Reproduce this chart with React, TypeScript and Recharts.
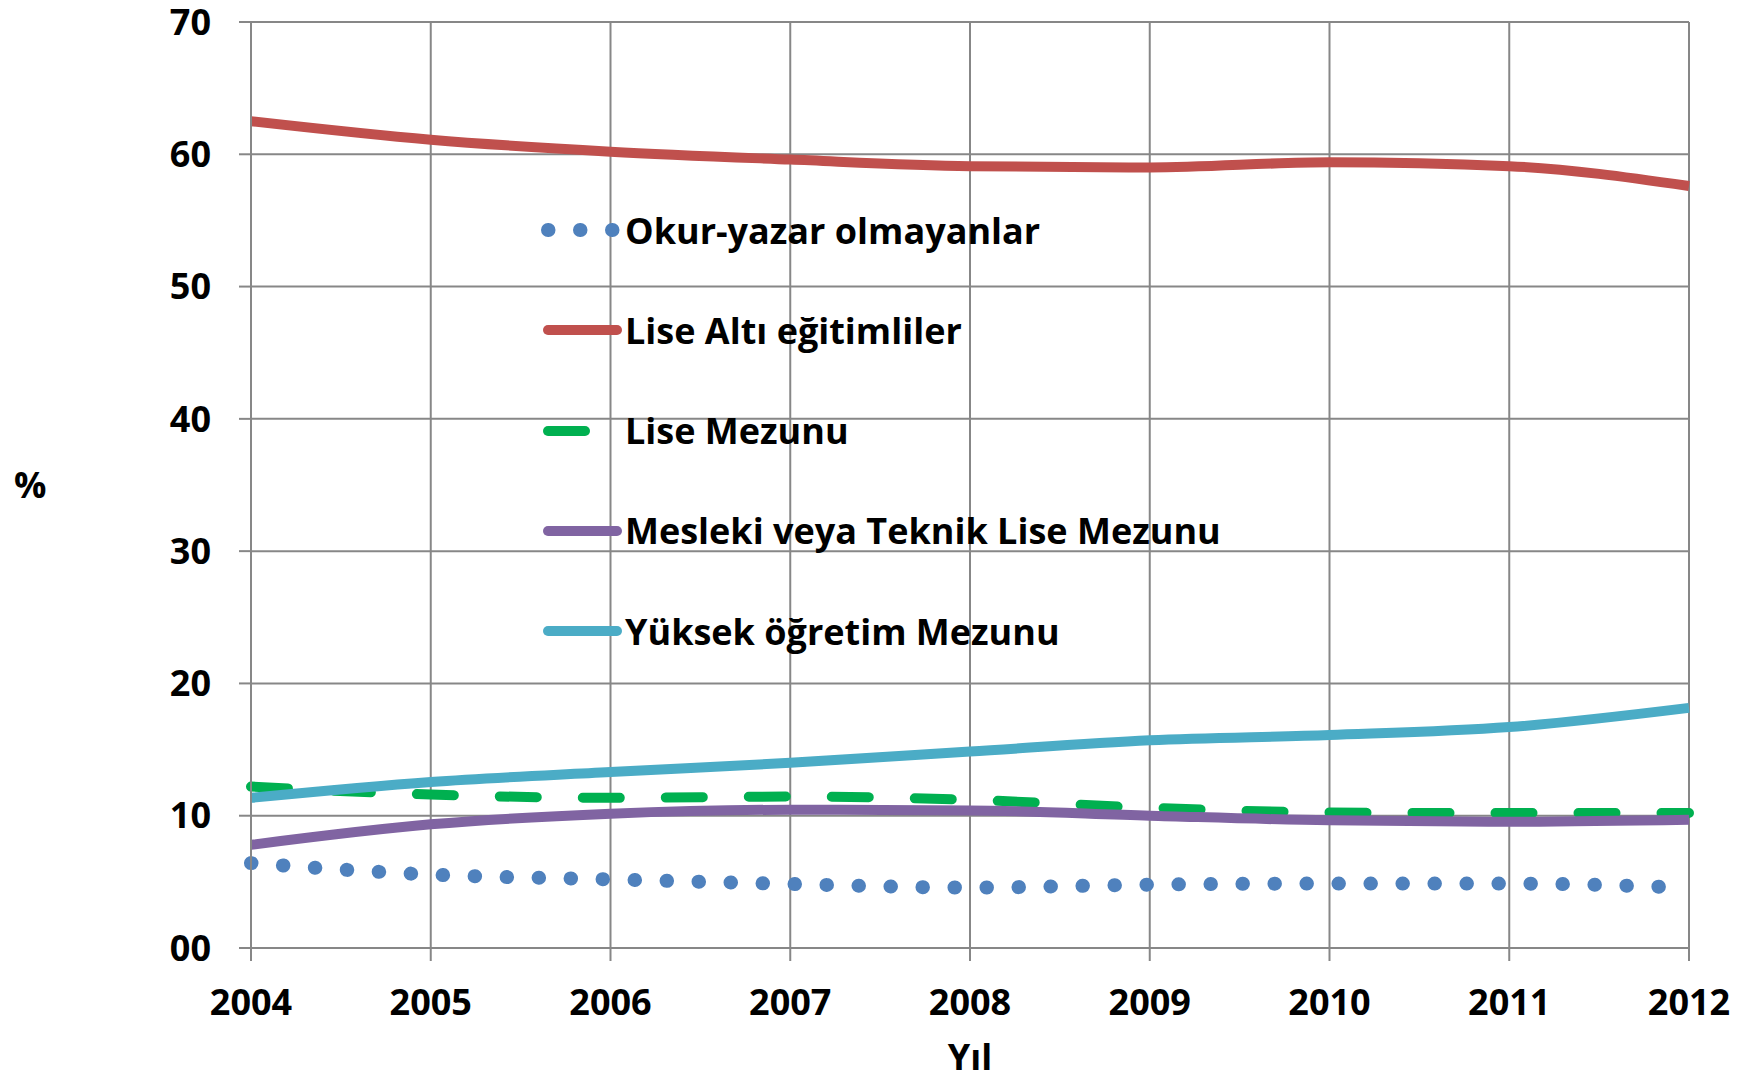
import React from 'react';
import { LineChart, Line, XAxis, YAxis, CartesianGrid, Legend } from 'recharts';

const YEARS = [2004, 2005, 2006, 2007, 2008, 2009, 2010, 2011, 2012];
const Y_TICKS = [0, 10, 20, 30, 40, 50, 60, 70];

// shares (%)
const OKUR_YAZAR = [6.42, 5.55, 5.19, 4.84, 4.57, 4.79, 4.87, 4.87, 4.55];
const LISE_ALTI = [62.5, 61.1, 60.2, 59.6, 59.1, 59.0, 59.4, 59.1, 57.6];
const LISE_MEZUNU = [12.2, 11.6, 11.35, 11.45, 11.2, 10.6, 10.25, 10.2, 10.2];
const MESLEKI = [7.8, 9.35, 10.15, 10.45, 10.4, 10.0, 9.65, 9.55, 9.7];
const YUKSEK = [11.35, 12.55, 13.3, 14.0, 14.85, 15.7, 16.1, 16.7, 18.15];

const SERIES = [
  { key: 'okur', name: 'Okur-yazar olmayanlar', color: '#4F81BD', width: 14, dash: '0.5 31.5', cap: 'round' },
  { key: 'altı', name: 'Lise Altı eğitimliler', color: '#C0504D', width: 10, dash: undefined, cap: 'butt' },
  { key: 'lise', name: 'Lise Mezunu', color: '#00B050', width: 10, dash: '37 46', cap: 'round' },
  { key: 'meslek', name: 'Mesleki veya Teknik Lise Mezunu', color: '#8064A2', width: 10, dash: undefined, cap: 'butt' },
  { key: 'yuksek', name: 'Yüksek öğretim Mezunu', color: '#4BACC6', width: 10, dash: undefined, cap: 'butt' },
];

const data = YEARS.map((year, i) => ({
  year,
  okur: OKUR_YAZAR[i],
  altı: LISE_ALTI[i],
  lise: LISE_MEZUNU[i],
  meslek: MESLEKI[i],
  yuksek: YUKSEK[i],
}));

const FONT = '"Open Sans", Lato, sans-serif';
const GRID = '#878787';
const TEXT = { fill: '#000', fontSize: 36, fontWeight: 700 };

const LegendBox = () => (
  <div style={{ fontFamily: FONT }}>
    {SERIES.map((s) => (
      <div key={s.key} style={{ height: 100.3, display: 'flex', alignItems: 'center' }}>
        <svg width={85} height={20} style={{ display: 'block' }}>
          <line
            x1={8}
            x2={77}
            y1={10}
            y2={10}
            stroke={s.color}
            strokeWidth={s.width}
            strokeDasharray={s.dash}
            strokeLinecap="round"
          />
        </svg>
        <span style={{ fontSize: 36, fontWeight: 700, color: '#000', whiteSpace: 'nowrap', lineHeight: 1.2 }}>
          {s.name}
        </span>
      </div>
    ))}
  </div>
);

export default function App() {
  return (
    <div style={{ position: 'absolute', left: 0, top: 0, width: 1751, height: 1080, background: '#fff' }}>
      <LineChart
        width={1751}
        height={1080}
        data={data}
        margin={{ top: 22, right: 62, bottom: 0, left: 0 }}
        style={{ fontFamily: FONT }}
      >
        <CartesianGrid stroke={GRID} strokeWidth={2} />
        <XAxis
          dataKey="year"
          type="number"
          domain={[2004, 2012]}
          ticks={YEARS}
          height={132}
          tickSize={13}
          tickMargin={28}
          axisLine={{ stroke: GRID, strokeWidth: 2 }}
          tickLine={{ stroke: GRID, strokeWidth: 2 }}
          tick={TEXT}
          label={{ value: 'Yıl', position: 'insideBottom', offset: 10, ...TEXT }}
        />
        <YAxis
          type="number"
          domain={[0, 70]}
          ticks={Y_TICKS}
          width={251}
          tickSize={12}
          tickMargin={28}
          interval={0}
          axisLine={{ stroke: GRID, strokeWidth: 2 }}
          tickLine={{ stroke: GRID, strokeWidth: 2 }}
          tick={TEXT}
          tickFormatter={(v: number) => (v === 0 ? '00' : String(v))}
          label={{ value: '%', position: 'insideLeft', offset: 14, ...TEXT }}
        />
        <Legend
          layout="vertical"
          align="center"
          verticalAlign="middle"
          content={<LegendBox />}
          wrapperStyle={{ left: 540, top: 180, width: 760 }}
        />
        {SERIES.map((s) => (
          <Line
            key={s.key}
            type="monotone"
            dataKey={s.key}
            name={s.name}
            stroke={s.color}
            strokeWidth={s.width}
            strokeDasharray={s.dash}
            strokeLinecap={s.cap as any}
            dot={false}
            activeDot={false}
            isAnimationActive={false}
          />
        ))}
      </LineChart>
    </div>
  );
}
